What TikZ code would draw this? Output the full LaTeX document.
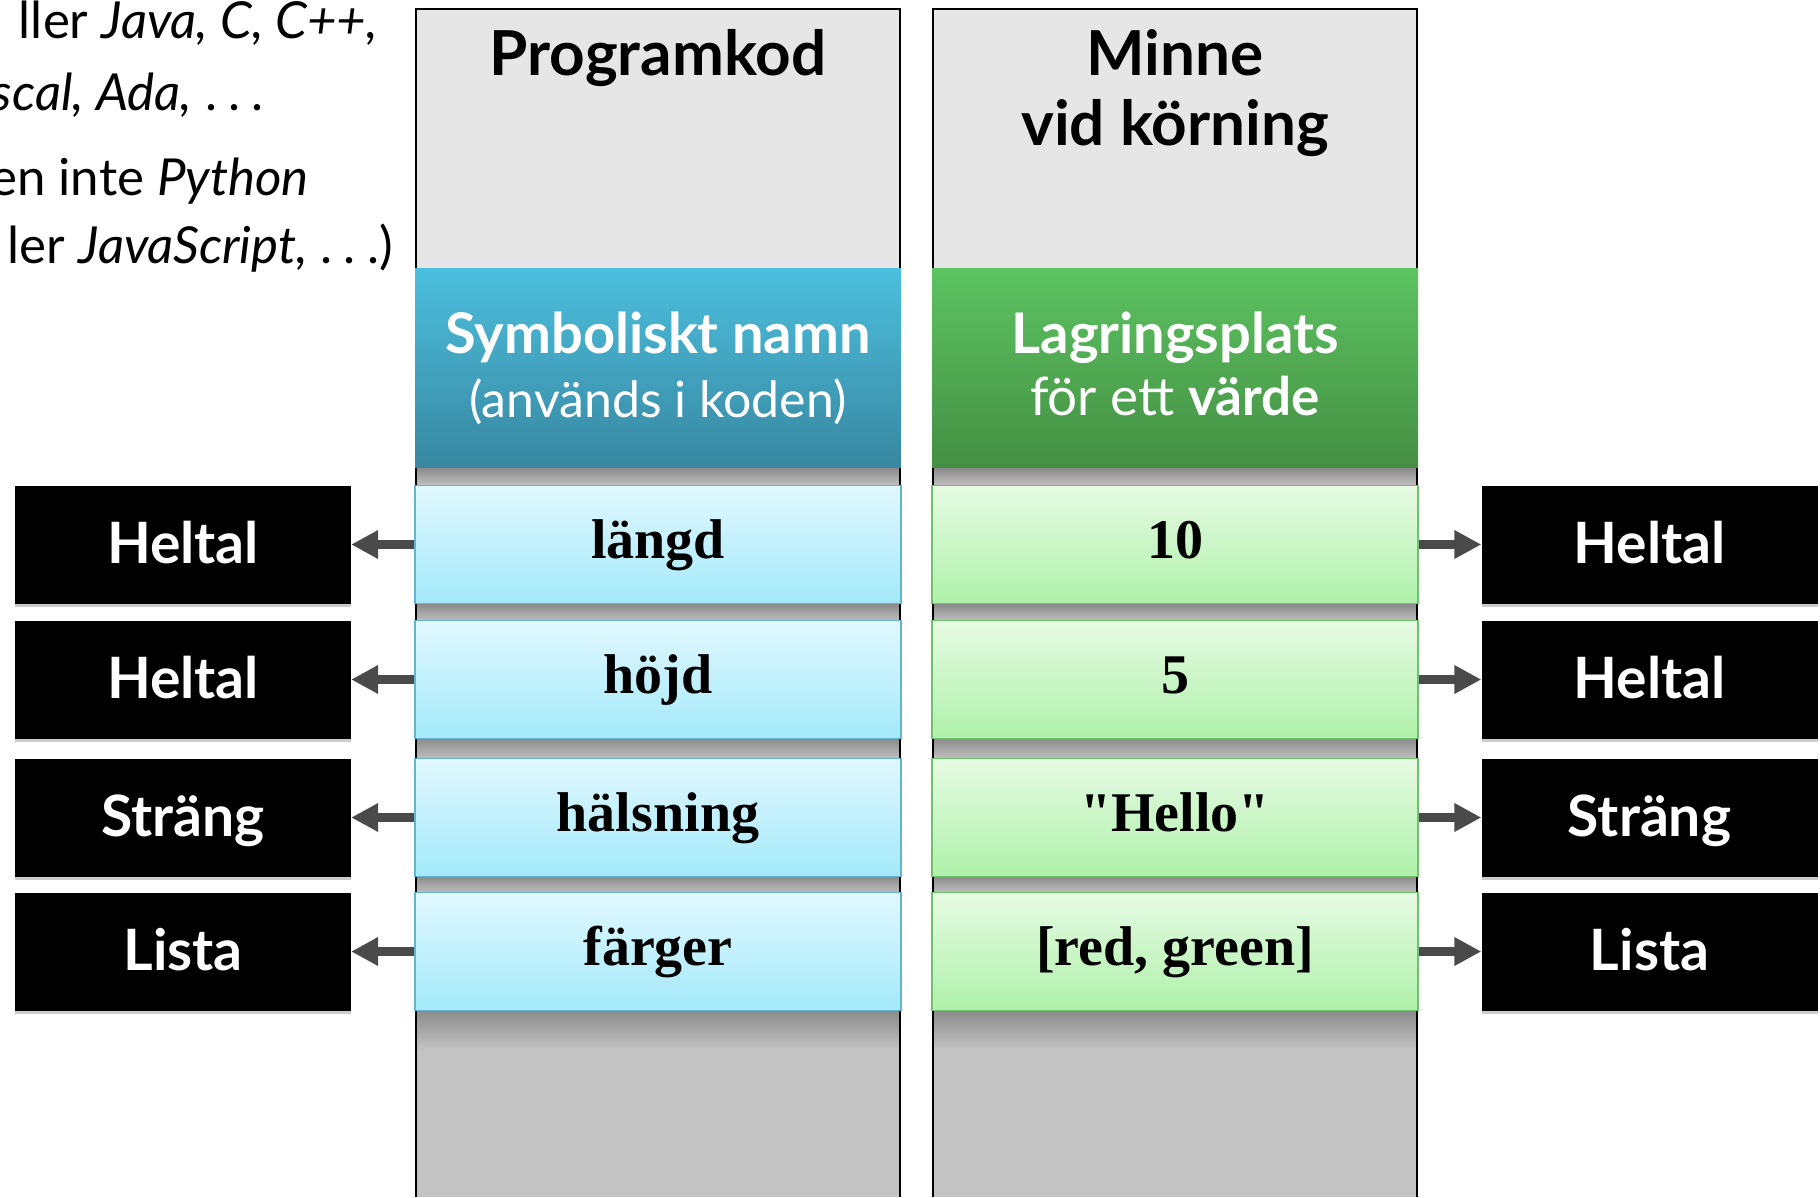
\documentclass[tikz,border=0pt]{standalone}
\usepackage{fontspec}
\usetikzlibrary{arrows.meta,shadows}
\newfontfamily\gill{Lato}
\newfontfamily\rowserif{Liberation Serif}
\definecolor{headgray}{HTML}{E6E6E6}
\definecolor{colgray}{HTML}{C3C3C3}
\definecolor{shadowgray}{HTML}{8A8A8A}
\definecolor{bluetop}{HTML}{4CBFDE}
\definecolor{bluebot}{HTML}{3887A0}
\definecolor{greentop}{HTML}{5CC361}
\definecolor{greenbot}{HTML}{458F43}
\definecolor{rowbluetop}{HTML}{E1F8FE}
\definecolor{rowbluebot}{HTML}{A4E9FA}
\definecolor{rowblueline}{HTML}{62B5D1}
\definecolor{rowgreentop}{HTML}{E6FAE3}
\definecolor{rowgreenbot}{HTML}{AFF1AA}
\definecolor{rowgreenline}{HTML}{6FC16C}
\definecolor{arrgray}{HTML}{4A4A4A}
\newcommand{\spdots}{.\hspace{0.22em}.\hspace{0.22em}.}
\tikzset{
  colline/.style={draw=black, line width=1.5pt},
  headbox/.style={fill=headgray, draw=none, minimum width=484pt, minimum height=260pt, inner sep=0pt},
  bluehead/.style={top color=bluetop, bottom color=bluebot, draw=none, minimum width=486pt, minimum height=199pt, inner sep=0pt},
  greenhead/.style={top color=greentop, bottom color=greenbot, draw=none, minimum width=486pt, minimum height=199pt, inner sep=0pt},
  headtxt/.style={inner sep=0pt, anchor=base, font=\gill\bfseries\fontsize{62}{68}\selectfont},
  wbold/.style={inner sep=0pt, anchor=base, text=white, font=\gill\bfseries\fontsize{56}{62}\selectfont},
  wreg/.style={inner sep=0pt, anchor=base, text=white, font=\gill\fontsize{50}{56}\selectfont},
  rowblue/.style={top color=rowbluetop, bottom color=rowbluebot, draw=rowblueline, line width=1.5pt,
    minimum width=486pt, minimum height=118pt, inner sep=0pt, text height=30pt, text depth=2pt,
    font=\rowserif\bfseries\fontsize{56}{60}\selectfont},
  rowgreen/.style={rowblue, top color=rowgreentop, bottom color=rowgreenbot, draw=rowgreenline},
  typebox/.style={fill=black, text=white, minimum width=336pt, minimum height=118pt, inner sep=0pt,
    text height=39pt, text depth=2pt, font=\gill\bfseries\fontsize{57}{62}\selectfont,
    drop shadow={shadow xshift=0pt, shadow yshift=-3pt, fill=black, opacity=0.2}},
  arr/.style={draw=arrgray, line width=9pt, -{Triangle[length=27pt, width=27pt]}},
  lefttxt/.style={inner sep=0pt, anchor=base east, font=\gill\fontsize{51}{56}\selectfont},
}
\begin{document}
\begin{tikzpicture}[x=1pt,y=-1pt]
\useasboundingbox (0,0) rectangle (1820,1197);
\clip (0,0) rectangle (1820,1197);
\fill[white] (0,0) rectangle (1820,1197);

% text at top left (cut off by the border)
\node[lefttxt] (l1) at (378,38) {ller \textit{Java, C, C++,}};
\node[lefttxt] (l2) at (264,110) {\textit{scal, Ada,} \spdots};
\node[lefttxt] (l3) at (309,195) {en inte \textit{Python}};
\node[lefttxt] (l4) at (393,263) {ler \textit{JavaScript,} \spdots)};

% column bodies
\fill[colgray] (416,9) rectangle (900,1197);
\fill[colgray] (933,9) rectangle (1417,1197);
\node[headbox] (pk) at (658,139) {};
\node[headbox] (mk) at (1175,139) {};

% shadows below blocks
\foreach \ya/\yb in {468/486, 604/622, 738/760, 876/894, 1010/1050}{
  \shade[top color=shadowgray, bottom color=colgray] (416,\ya) rectangle (900,\yb);
  \shade[top color=shadowgray, bottom color=colgray] (933,\ya) rectangle (1417,\yb);
}
\draw[colline] (416,1197) -- (416,9) -- (900,9) -- (900,1197);
\draw[colline] (933,1197) -- (933,9) -- (1417,9) -- (1417,1197);

\node[headtxt] (pkt) at (658,75) {Programkod};
\node[headtxt] (mkt1) at (1175,75) {Minne};
\node[headtxt] (mkt2) at (1175,145) {vid körning};

% coloured header blocks
\node[bluehead] (sym) at (658,368) {};
\node[greenhead] (lag) at (1175,368) {};
\node[wbold] (symt1) at (658,353) {Symboliskt namn};
\node[wreg] (symt2) at (658,417) {(används i koden)};
\node[wbold] (lagt1) at (1175,353) {Lagringsplats};
\node[wreg, font=\gill\fontsize{53}{58}\selectfont] (lagt2) at (1175,415) {för ett \textbf{värde}};

% rows
\node[rowblue] (n1) at (658,544.5) {längd};
\node[rowblue] (n2) at (658,679.5) {höjd};
\node[rowblue] (n3) at (658,817.5) {hälsning};
\node[rowblue] (n4) at (658,951.5) {färger};
\node[rowgreen] (v1) at (1175,544.5) {10};
\node[rowgreen] (v2) at (1175,679.5) {5};
\node[rowgreen] (v3) at (1175,817.5) {"Hello"};
\node[rowgreen] (v4) at (1175,951.5) {[red, green]};

% type boxes
\node[typebox] (tl1) at (183,544.5) {Heltal};
\node[typebox] (tl2) at (183,679.5) {Heltal};
\node[typebox] (tl3) at (183,817.5) {Sträng};
\node[typebox] (tl4) at (183,951.5) {Lista};
\node[typebox] (tr1) at (1649.5,544.5) {Heltal};
\node[typebox] (tr2) at (1649.5,679.5) {Heltal};
\node[typebox] (tr3) at (1649.5,817.5) {Sträng};
\node[typebox] (tr4) at (1649.5,951.5) {Lista};

% arrows
\foreach \i in {1,2,3,4}{
  \draw[arr] (n\i.west) -- (tl\i.east);
  \draw[arr] (v\i.east) -- (tr\i.west);
}
\end{tikzpicture}
\end{document}
